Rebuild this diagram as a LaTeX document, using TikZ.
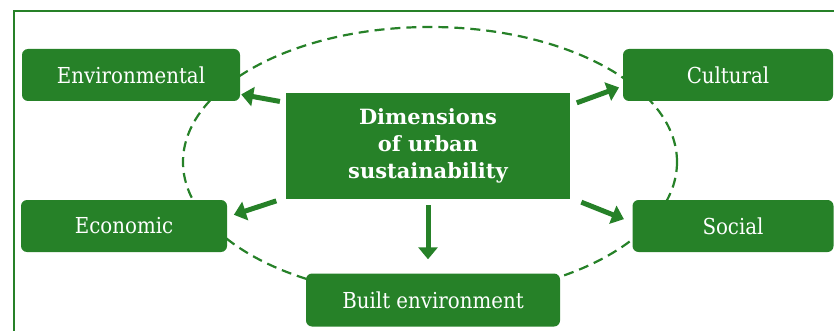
\documentclass[tikz,border=0pt]{standalone}
\usepackage{fontspec}
\setmainfont{DejaVu Serif}
\newfontfamily\boxfont{DejaVu Serif Condensed}
\usepackage{xcolor}
\usetikzlibrary{arrows.meta}

\definecolor{leafgreen}{RGB}{38,129,40}

\tikzset{
  dimbox/.style={fill=leafgreen, text=white, rounded corners=6pt,
    minimum height=52pt, inner sep=0pt, font=\boxfont\fontsize{22}{26}\selectfont},
  hubbox/.style={fill=leafgreen, text=white, align=center,
    minimum width=284pt, minimum height=106pt, inner sep=0pt,
    font=\fontsize{21}{27}\selectfont\bfseries},
  fatarrow/.style={leafgreen, line width=5pt,
    -{Triangle[length=12pt,width=19pt]}},
}

\begin{document}
\begin{tikzpicture}[x=1pt,y=-1pt]
\useasboundingbox (0,0) rectangle (834,331);

% Outer frame, runs off the page on the right and at the bottom
\draw[leafgreen, line width=2.6pt] (14,11) rectangle (860,360);

% Dashed ring round the hub
\draw[leafgreen, line width=2.2pt, dash pattern=on 10pt off 6pt]
    (430,162) ellipse [x radius=247, y radius=135];

% The six boxes
\node[hubbox] (hub) at (428,146) {Dimensions\\of urban\\sustainability};
\node[dimbox, minimum width=218pt] (env) at (131,75) {Environmental};
\node[dimbox, minimum width=210pt] (cult) at (728,75) {Cultural};
\node[dimbox, minimum width=206pt] (econ) at (124,226) {Economic};
\node[dimbox, minimum width=201pt] (soc) at (733,226) {Social};
\node[dimbox, minimum width=254pt, minimum height=53pt] (built) at (433,300) {Built environment};

% Arrows out of the hub
\draw[fatarrow, shorten <=6pt, shorten >=1pt] (hub.163) -- (env.-10);
\draw[fatarrow, shorten <=7pt, shorten >=4pt] (hub.16) -- (cult.186);
\draw[fatarrow, shorten <=10pt, shorten >=7pt] (hub.200) -- (econ.5);
\draw[fatarrow, shorten <=12pt, shorten >=9pt] (hub.-20) -- (soc.178);
\draw[fatarrow, shorten <=6pt, shorten >=14pt] (hub.south) -- (hub.south |- built.north);
\end{tikzpicture}
\end{document}
